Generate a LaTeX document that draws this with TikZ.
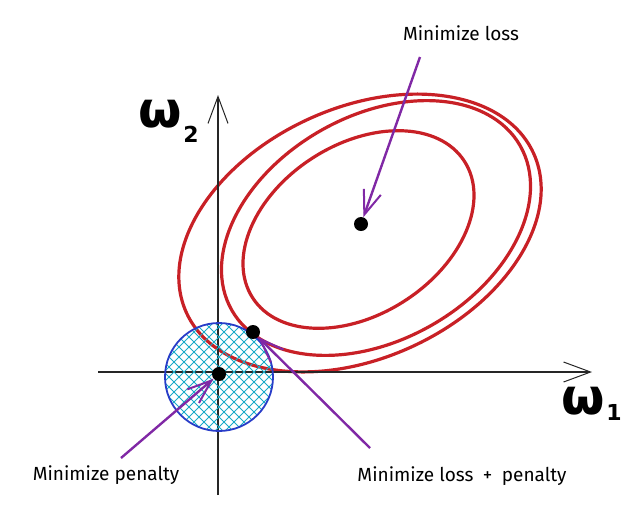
\documentclass[tikz,border=0pt]{standalone}
\usepackage{fontspec}
\setmainfont{Fira Sans}
\newfontfamily\omegafont{DejaVu Sans}
\usetikzlibrary{arrows.meta}
\definecolor{ered}{RGB}{200,32,38}
\definecolor{apurple}{RGB}{128,40,165}
\definecolor{cblue}{RGB}{40,60,200}
\definecolor{hcyan}{RGB}{25,170,200}
\tikzset{
  ell/.style={draw=ered, line width=3.2pt},
  axis/.style={draw=black!85, line width=1.1pt, -{Straight Barb[length=27pt,width=20pt,line width=1pt]}},
  parrow/.style={draw=apurple, line width=2.4pt, -{Straight Barb[length=24pt,width=18pt,line width=2pt]}},
  hatch/.style={draw=hcyan, line width=1pt},
  dotnode/.style={circle, fill=black, inner sep=0pt, minimum size=14pt},
  lbl/.style={font=\fontsize{19}{21}\selectfont, inner sep=0pt},
  omg/.style={font=\omegafont\bfseries\fontsize{50}{50}\selectfont, inner sep=0pt},
  sub/.style={font=\omegafont\bfseries\fontsize{22}{22}\selectfont, inner sep=0pt}
}
\begin{document}
\begin{tikzpicture}[x=1pt,y=-1pt]
\useasboundingbox (0,0) rectangle (640,507);
% ellipses (loss contours)
\draw[ell, rotate around={24.8:(360,233)}] (360,233) ellipse [x radius=191pt, y radius=125pt];
\draw[ell, rotate around={29.7:(376,228)}] (376,228) ellipse [x radius=166pt, y radius=112pt];
\draw[ell, rotate around={32.8:(358.5,229.5)}] (358.5,229.5) ellipse [x radius=126pt, y radius=85pt];
% axes
\coordinate (xs) at (98,372);
\coordinate (xe) at (592,372);
\coordinate (ys) at (218,495);
\coordinate (ye) at (218,95);
\draw[axis] (xs) -- (xe);
\draw[axis] (ys) -- (ye);
% penalty disc
\coordinate (pc) at (219,377);
\begin{scope}
  \clip (pc) circle[radius=54pt];
  \foreach \i in {-130,-120,...,130} {
    \draw[hatch] ({219+\i-60},317) -- ({219+\i+60},437);
    \draw[hatch] ({219+\i+60},317) -- ({219+\i-60},437);
  }
\end{scope}
\draw[draw=cblue, line width=1.8pt] (pc) circle[radius=54pt];
% dots
\node[dotnode] (c) at (361,224) {};
\node[dotnode] (o) at (219,374) {};
\node[dotnode] (t) at (253,332) {};
% labels
\node[lbl] (loss) at (461,33) {Minimize loss};
\node[lbl] (pen) at (106,475) {Minimize penalty};
\node[lbl] (lp) at (462,476) {Minimize loss\hspace{0.5em}+\hspace{0.5em}penalty};
\node[omg] (w2) at (160,114) {ω};
\node[sub] (w2s) at (191,134) {2};
\node[omg] (w1) at (583,401) {ω};
\node[sub] (w1s) at (614,412) {1};
% arrows
\coordinate (a1) at (420,57);
\coordinate (a2) at (121,458);
\coordinate (a3) at (370,448);
\draw[parrow] (a1) -- (c);
\draw[parrow] (a2) -- (o);
\draw[parrow] (a3) -- (t);
\end{tikzpicture}
\end{document}
